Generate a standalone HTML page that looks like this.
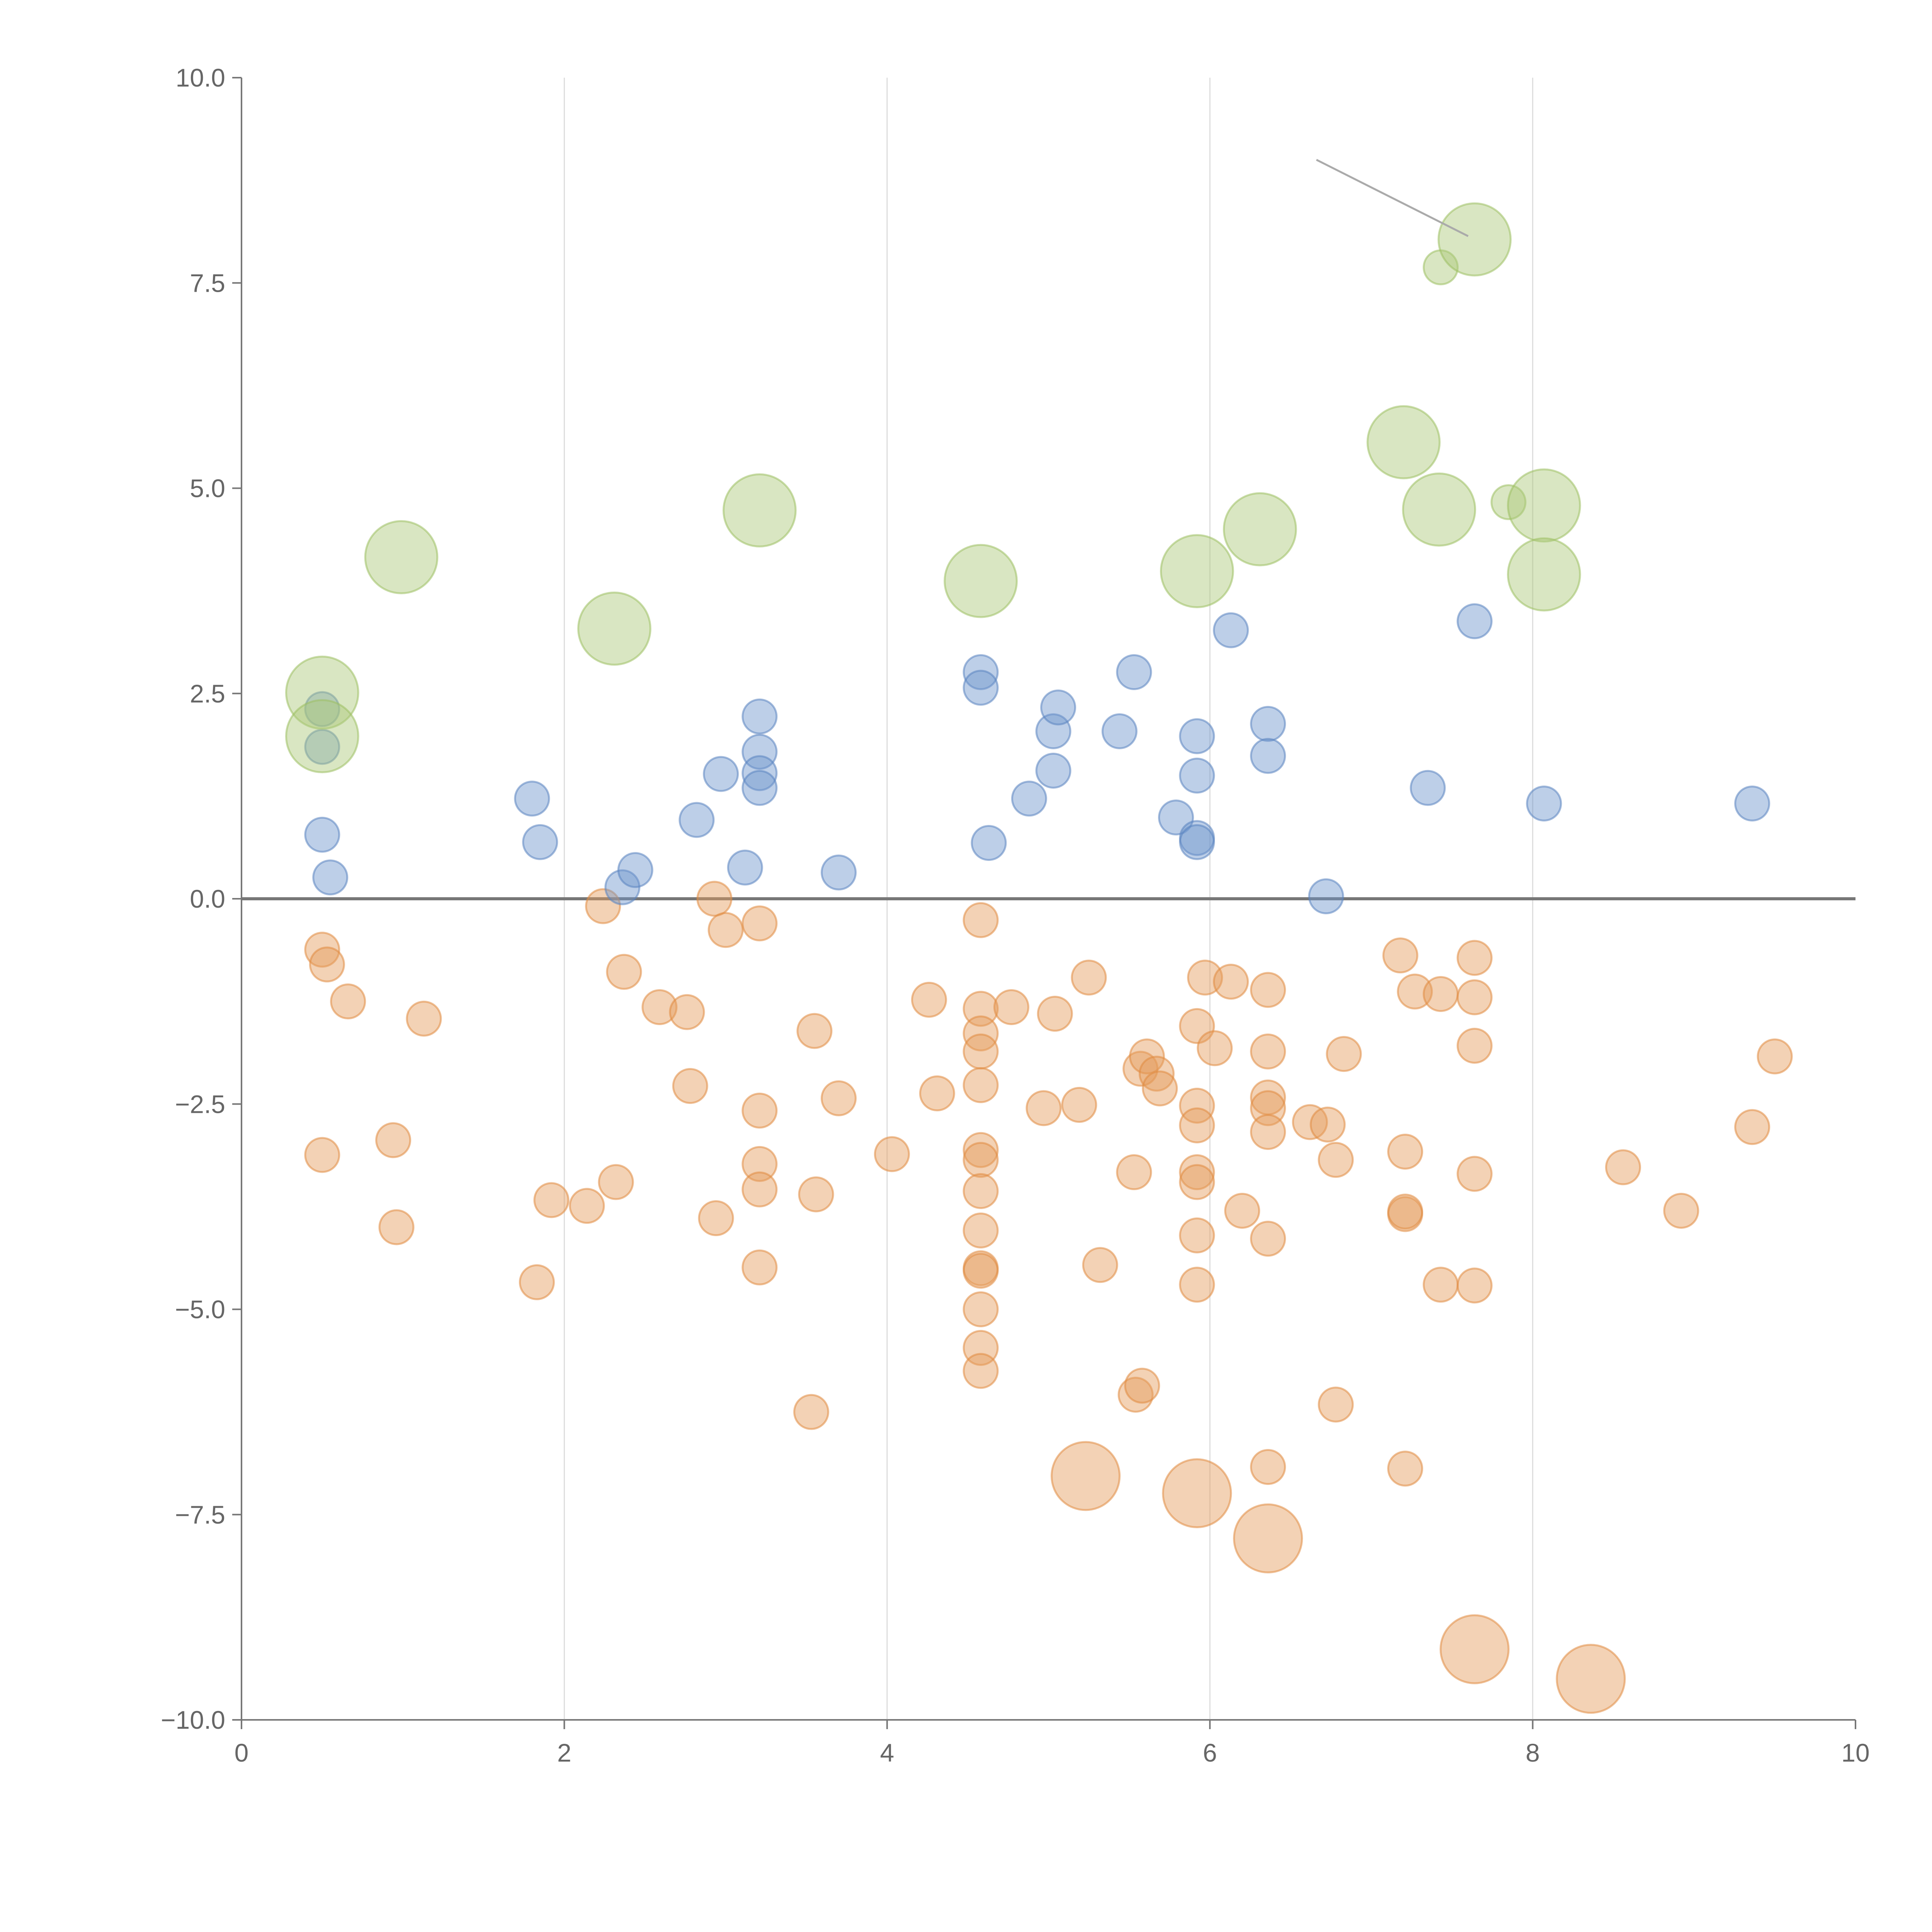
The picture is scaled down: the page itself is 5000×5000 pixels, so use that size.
<!DOCTYPE html>
<html><head><meta charset="utf-8"><style>
html,body{margin:0;padding:0;background:#fff;width:5000px;height:5000px;overflow:hidden}
svg{display:block}
text{font-family:"Liberation Sans",sans-serif;fill:#666}
</style></head><body>
<svg id="chart" width="5000" height="5000" viewBox="0 0 5000 5000"></svg>
<script>
const xTicks=[0,2,4,6,8,10];
const yTicks=[10,7.5,5,2.5,0,-2.5,-5,-7.5,-10];
const blueX=[0.50,0.50,0.50,0.55,1.80,1.85,2.36,2.44,2.82,2.97,3.12,3.21,3.21,3.21,3.21,3.70,4.58,4.58,4.63,4.88,5.03,5.06,5.03,5.44,5.53,5.79,5.92,5.92,5.92,5.92,6.13,6.36,6.36,6.72,7.35,7.64,8.07,9.36];
const blueY=[2.31,1.85,0.78,0.26,1.22,0.69,0.14,0.35,0.96,1.52,0.38,2.22,1.79,1.53,1.35,0.32,2.76,2.57,0.68,1.22,2.04,2.33,1.56,2.04,2.76,0.99,1.98,1.50,0.74,0.69,3.27,2.13,1.74,0.03,1.35,3.38,1.16,1.16];
const greenX=[0.50,0.50,0.99,2.31,3.21,4.58,5.92,6.31,7.20,7.42,7.43,7.64,7.85,8.07,8.07];
const greenY=[2.51,1.98,4.16,3.29,4.73,3.87,3.99,4.50,5.56,4.74,7.69,8.03,4.83,4.79,3.95];
const greenSize=[4.5,4.5,4.5,4.5,4.5,4.5,4.5,4.5,4.5,4.5,1,4.5,1,4.5,4.5];
const orangeX=[0.50,0.53,0.66,1.13,0.50,0.94,0.96,1.83,1.92,2.14,2.24,2.32,2.37,2.59,2.76,2.78,2.93,3.00,2.94,3.21,3.21,3.21,3.21,3.21,3.55,3.56,3.53,3.70,4.03,4.26,4.31,
4.58,4.58,4.58,4.58,4.58,4.58,4.58,4.58,4.58,4.58,4.58,4.58,4.58,4.58,
4.77,4.97,5.04,5.19,5.25,5.32,5.53,5.54,5.58,5.57,5.61,5.67,5.69,
5.92,5.92,5.92,5.92,5.92,5.92,5.92,5.97,6.03,6.13,6.20,
6.36,6.36,6.36,6.36,6.36,6.36,6.36,6.62,6.73,6.78,6.78,6.83,7.18,7.27,7.21,7.21,7.21,7.21,7.43,7.43,
7.64,7.64,7.64,7.64,7.64,8.56,8.92,9.36,9.50,
5.23,5.92,6.36,7.64,8.36];
const orangeY=[-0.62,-0.80,-1.25,-1.46,-3.12,-2.94,-4.00,-4.67,-3.67,-3.74,-0.09,-3.45,-0.89,-1.32,-1.38,-2.28,0.00,-0.38,-3.89,-0.30,-2.58,-3.23,-3.54,-4.49,-1.61,-3.60,-6.25,-2.43,-3.11,-1.23,-2.37,
-0.26,-1.34,-1.64,-1.86,-2.27,-3.06,-3.18,-3.56,-4.04,-4.50,-4.53,-5.00,-5.47,-5.75,
-1.32,-2.55,-1.40,-2.51,-0.96,-4.46,-3.33,-6.04,-5.93,-2.07,-1.92,-2.13,-2.31,
-1.55,-2.52,-2.76,-3.33,-3.45,-4.10,-4.70,-0.96,-1.82,-1.01,-3.80,
-1.11,-1.86,-2.42,-2.55,-2.84,-4.14,-6.92,-2.72,-2.75,-3.18,-6.16,-1.89,-0.69,-1.13,-3.08,-3.84,-3.81,-6.94,-1.16,-4.70,
-0.72,-1.20,-1.79,-3.35,-4.71,-3.27,-3.80,-2.78,-1.92,
-7.03,-7.24,-7.79,-9.14,-9.50];
const orangeBig=[5.23,5.92,6.36,7.64,8.36];

const X0=625,X1=4802,Y0=201,Y1=4451;
const sx=v=>X0+(v-0)/(10-0)*(X1-X0);
const sy=v=>Y1-(v+10)/20*(Y1-Y0);
const rs=s=>44*Math.sqrt(s);
const svg=document.getElementById('chart');
const NS='http://www.w3.org/2000/svg';
function mk(tag,attrs,parent){const e=document.createElementNS(NS,tag);for(const k in attrs)e.setAttribute(k,attrs[k]);(parent||svg).appendChild(e);return e;}

const grid=mk('g',{});


xTicks.slice(1,-1).forEach(t=>{
  const l=mk('line',{x1:sx(t),x2:sx(t),y1:Y0,y2:Y1,stroke:'#ddd','stroke-width':3},grid);
  
  
});

const zl=mk('line',{x1:X0,x2:X1,y1:sy(0),y2:sy(0),stroke:'#777','stroke-width':8});



function series(xs,ys,sizes,fill,stroke,name){
  const g=mk('g',{});
  
  
  xs.forEach((x,i)=>{
    const c=mk('circle',{cx:sx(x),cy:sy(ys[i]),r:rs(sizes[i]),fill:fill,'fill-opacity':0.45,stroke:stroke,'stroke-opacity':0.55,'stroke-width':5},g);
    
    
  });
}
series(orangeX,orangeY,orangeX.map((x,i)=>i>=orangeX.length-orangeBig.length?4:1),'#e59c5c','#e08a40','orange');
series(blueX,blueY,blueX.map(()=>1),'#6d94cc','#5a84c0','blue');
series(greenX,greenY,greenSize,'#aac878','#9cc062','green');

const ann=mk('line',{x1:sx(6.66),y1:sy(9.0),x2:sx(7.6),y2:sy(8.07),stroke:'#aaa','stroke-width':5});



const ax=mk('g',{});


const ya=mk('line',{x1:X0,x2:X0,y1:Y0,y2:Y1,stroke:'#777','stroke-width':4},ax);


const xa=mk('line',{x1:X0,x2:X1,y1:Y1,y2:Y1,stroke:'#777','stroke-width':4},ax);


yTicks.forEach(t=>{
  const tk=mk('line',{x1:X0-24,x2:X0,y1:sy(t),y2:sy(t),stroke:'#777','stroke-width':4},ax);
  
  
  const tx=mk('text',{x:X0-42,y:sy(t)+23,'text-anchor':'end','font-size':66},ax);
  tx.textContent=(t<0?'\u2212':'')+Math.abs(t).toFixed(1);
  
  
});
xTicks.forEach(t=>{
  const tk=mk('line',{x1:sx(t),x2:sx(t),y1:Y1,y2:Y1+24,stroke:'#777','stroke-width':4},ax);
  
  
  const tx=mk('text',{x:sx(t),y:Y1+108,'text-anchor':'middle','font-size':66},ax);
  tx.textContent=String(t);
  
  
});
</script>
</body></html>
